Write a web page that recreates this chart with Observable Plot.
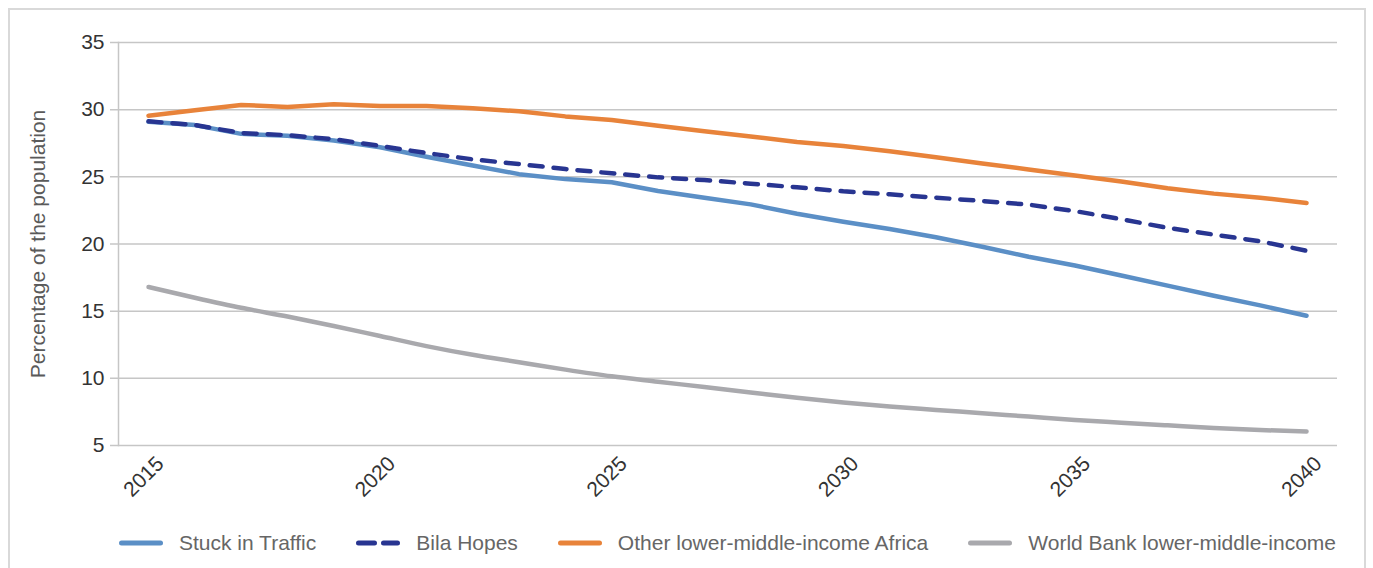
<!DOCTYPE html>
<html>
<head>
<meta charset="utf-8">
<script src="https://cdn.jsdelivr.net/npm/d3@7"></script>
<script src="https://cdn.jsdelivr.net/npm/@observablehq/plot@0.6"></script>
<style>
  body { margin: 0; background: #fff; font-family: "Liberation Sans", Arial, sans-serif; }
  #frame { position: absolute; left: 8px; top: 8px; width: 1354px; height: 600px; border: 2px solid #d9d9d9; overflow: hidden; background: #fff; }
  #chart { position: absolute; left: 0; top: 0; }
  #legend { position: absolute; left: 108px; width: 1219px; top: 521px; height: 24px; display: flex; justify-content: center; align-items: center; gap: 40px; font-size: 21px; color: #666; }
  .item { display: flex; align-items: center; gap: 16px; white-space: nowrap; }
  .item svg { display: block; }
</style>
</head>
<body>
<div id="frame">
  <div id="chart"></div>
  <div id="legend"></div>
</div>
<script>
// ---- data ----
const years = [2015, 2016, 2017, 2018, 2019, 2020, 2021, 2022, 2023, 2024, 2025, 2026, 2027,
               2028, 2029, 2030, 2031, 2032, 2033, 2034, 2035, 2036, 2037, 2038, 2039, 2040];
const stuckInTraffic = [29.1, 28.85, 28.2, 28.05, 27.7, 27.2, 26.5, 25.85, 25.2, 24.83, 24.6, 23.95, 23.45,
                        22.95, 22.25, 21.66, 21.12, 20.5, 19.8, 19.05, 18.4, 17.65, 16.9, 16.15, 15.43, 14.66];
const bilaHopes = [29.13, 28.86, 28.26, 28.1, 27.8, 27.3, 26.77, 26.3, 25.95, 25.58, 25.26, 24.96, 24.76,
                   24.49, 24.22, 23.92, 23.7, 23.45, 23.2, 22.93, 22.45, 21.85, 21.2, 20.7, 20.2, 19.5];
const otherLMIAfrica = [29.55, 29.95, 30.35, 30.2, 30.4, 30.27, 30.27, 30.1, 29.88, 29.5, 29.23, 28.8, 28.4,
                        28.0, 27.6, 27.3, 26.9, 26.45, 26.0, 25.55, 25.1, 24.65, 24.15, 23.75, 23.45, 23.05];
const worldBankLMI = [16.8, 16.0, 15.25, 14.6, 13.9, 13.15, 12.4, 11.75, 11.2, 10.65, 10.15, 9.75, 9.35,
                      8.95, 8.55, 8.2, 7.9, 7.65, 7.4, 7.15, 6.9, 6.7, 6.5, 6.3, 6.15, 6.05];
const seriesNames = ["Stuck in Traffic", "Bila Hopes", "Other lower-middle-income Africa", "World Bank lower-middle-income"];
const yTicks = [5, 10, 15, 20, 25, 30, 35];
const xTicks = [2015, 2020, 2025, 2030, 2035, 2040];
const yLabel = "Percentage of the population";

// ---- styles ----
const colors = ["#5b8fc6", "#283591", "#e8833a", "#a9a9ad"];
const dashes = [null, "13,11", null, null];

const toRows = (vals) => years.map((y, i) => ({year: y, value: vals[i]}));

const lineOpts = (i) => ({
  x: "year", y: "value", stroke: colors[i], strokeWidth: 4.5,
  strokeLinecap: "round", strokeLinejoin: "round",
  strokeDasharray: dashes[i] || undefined,
  curve: i === 3 ? "monotone-x" : "linear"
});

const chart = Plot.plot({
  width: 1354,
  height: 500,
  marginLeft: 108,
  marginRight: 27,
  marginTop: 32,
  marginBottom: 65,
  style: {fontFamily: "'Liberation Sans', Arial, sans-serif", background: "transparent"},
  x: {domain: [2014.352, 2040.669], axis: null},
  y: {domain: [5, 35], axis: null},
  marks: [
    Plot.ruleY(yTicks, {stroke: "#c6c6c6", strokeWidth: 1.5, insetLeft: -8}),
    Plot.frame({anchor: "left", stroke: "#c6c6c6", strokeWidth: 1.5}),
    Plot.axisY({ticks: yTicks, tickSize: 0, tickPadding: 14, fontSize: 21, fill: "#333", label: null}),
    Plot.text(xTicks, {x: d => d, text: d => String(d), frameAnchor: "bottom", dy: 36, rotate: -45, textAnchor: "middle", fontSize: 21, fill: "#333"}),
    Plot.text([yLabel], {frameAnchor: "left", dx: -80, rotate: -90, textAnchor: "middle", fontSize: 21, fill: "#5a5a5a"}),
    Plot.line(toRows(worldBankLMI), lineOpts(3)),
    Plot.line(toRows(otherLMIAfrica), lineOpts(2)),
    Plot.line(toRows(stuckInTraffic), lineOpts(0)),
    Plot.line(toRows(bilaHopes), lineOpts(1))
  ]
});
document.getElementById("chart").appendChild(chart);

// ---- legend ----
const legend = document.getElementById("legend");
seriesNames.forEach((name, i) => {
  const item = document.createElement("div");
  item.className = "item";
  const dash = dashes[i] ? `stroke-dasharray="16,9"` : "";
  item.innerHTML = `<svg width="44" height="10"><line x1="2.5" x2="41.5" y1="5" y2="5" stroke="${colors[i]}" stroke-width="5" stroke-linecap="round" ${dash}/></svg><span>${name}</span>`;
  legend.appendChild(item);
});
</script>
</body>
</html>
